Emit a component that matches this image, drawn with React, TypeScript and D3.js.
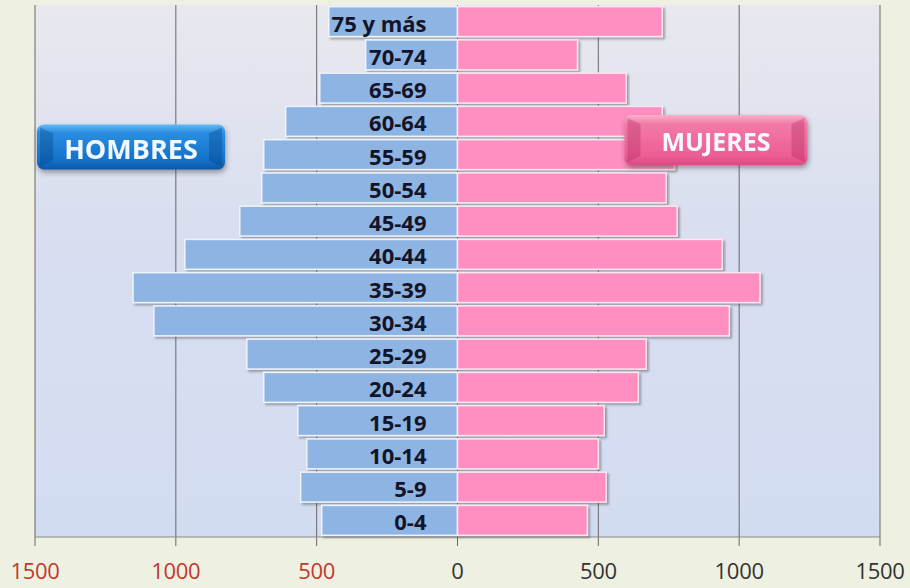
import React, { useRef, useEffect } from "react";
import * as d3 from "d3";

const ageGroups = [
  "0-4", "5-9", "10-14", "15-19", "20-24", "25-29", "30-34", "35-39",
  "40-44", "45-49", "50-54", "55-59", "60-64", "65-69", "70-74", "75 y más",
];
const hombres = [482, 557, 535, 567, 688, 748, 1078, 1152, 968, 773, 695, 688, 610, 489, 326, 457];
const mujeres = [461, 528, 500, 521, 642, 670, 965, 1074, 940, 780, 741, 770, 727, 599, 426, 727];
const tickValues = [-1500, -1000, -500, 0, 500, 1000, 1500];

const W = 910;
const H = 588;

const App: React.FC = () => {
  const ref = useRef<SVGSVGElement | null>(null);

  useEffect(() => {
    if (!ref.current) return;
    const svg = d3.select(ref.current);
    svg.selectAll("*").remove();

    const left = 35, right = 880, top = 5, bottom = 537;

    const x = d3.scaleLinear().domain([-1500, 1500]).range([left, right]);
    const y = d3
      .scaleBand<string>()
      .domain([...ageGroups].reverse())
      .range([top, bottom])
      .paddingInner(0.1)
      .paddingOuter(0.05);

    const defs = svg.append("defs");
    const plotGrad = defs.append("linearGradient").attr("id", "plotBg")
      .attr("x1", 0).attr("y1", 0).attr("x2", 0).attr("y2", 1);
    plotGrad.append("stop").attr("offset", "0%").attr("stop-color", "#e8e8ee");
    plotGrad.append("stop").attr("offset", "45%").attr("stop-color", "#d8def0");
    plotGrad.append("stop").attr("offset", "100%").attr("stop-color", "#d2dcf1");

    const shadow = defs.append("filter").attr("id", "barShadow")
      .attr("x", "-5%").attr("y", "-20%").attr("width", "115%").attr("height", "160%");
    shadow.append("feDropShadow").attr("dx", 2).attr("dy", 2)
      .attr("stdDeviation", 1.2).attr("flood-color", "#444").attr("flood-opacity", 0.45);

    const btnShadow = defs.append("filter").attr("id", "btnShadow")
      .attr("x", "-10%").attr("y", "-20%").attr("width", "130%").attr("height", "160%");
    btnShadow.append("feDropShadow").attr("dx", 1).attr("dy", 3)
      .attr("stdDeviation", 2.5).attr("flood-color", "#333").attr("flood-opacity", 0.45);

    const blueGrad = defs.append("linearGradient").attr("id", "blueBtn")
      .attr("x1", 0).attr("y1", 0).attr("x2", 0).attr("y2", 1);
    blueGrad.append("stop").attr("offset", "0%").attr("stop-color", "#62b9f4");
    blueGrad.append("stop").attr("offset", "18%").attr("stop-color", "#2a8ee0");
    blueGrad.append("stop").attr("offset", "80%").attr("stop-color", "#1470c8");
    blueGrad.append("stop").attr("offset", "100%").attr("stop-color", "#0b58a8");

    const pinkGrad = defs.append("linearGradient").attr("id", "pinkBtn")
      .attr("x1", 0).attr("y1", 0).attr("x2", 0).attr("y2", 1);
    pinkGrad.append("stop").attr("offset", "0%").attr("stop-color", "#fbb0cc");
    pinkGrad.append("stop").attr("offset", "18%").attr("stop-color", "#f27aa6");
    pinkGrad.append("stop").attr("offset", "80%").attr("stop-color", "#ed5f95");
    pinkGrad.append("stop").attr("offset", "100%").attr("stop-color", "#dd4a82");

    // page + plot background
    svg.append("rect").attr("width", W).attr("height", H).attr("fill", "#eef0e1");
    svg.append("rect")
      .attr("x", left).attr("y", top)
      .attr("width", right - left).attr("height", bottom - top)
      .attr("fill", "url(#plotBg)");

    // vertical gridlines + ticks
    svg.append("g")
      .selectAll("line")
      .data(tickValues)
      .join("line")
      .attr("x1", (d) => x(d)).attr("x2", (d) => x(d))
      .attr("y1", top).attr("y2", bottom + 9)
      .attr("stroke", "#686868").attr("stroke-width", 1);

    // bottom axis line
    svg.append("line")
      .attr("x1", left).attr("x2", right)
      .attr("y1", bottom).attr("y2", bottom)
      .attr("stroke", "#8a8a8a").attr("stroke-width", 1);

    const bars = svg.append("g").attr("filter", "url(#barShadow)");

    bars.selectAll("rect.m")
      .data(ageGroups)
      .join("rect")
      .attr("class", "m")
      .attr("x", (d, i) => x(-hombres[i]))
      .attr("y", (d) => y(d) as number)
      .attr("width", (d, i) => x(0) - x(-hombres[i]))
      .attr("height", y.bandwidth())
      .attr("fill", "#8db4e3")
      .attr("stroke", "#eef4fb")
      .attr("stroke-width", 1.5);

    bars.selectAll("rect.f")
      .data(ageGroups)
      .join("rect")
      .attr("class", "f")
      .attr("x", x(0))
      .attr("y", (d) => y(d) as number)
      .attr("width", (d, i) => x(mujeres[i]) - x(0))
      .attr("height", y.bandwidth())
      .attr("fill", "#fe8fc0")
      .attr("stroke", "#fde6f0")
      .attr("stroke-width", 1.5);

    // category labels
    svg.append("g")
      .selectAll("text")
      .data(ageGroups)
      .join("text")
      .attr("x", x(0) - 31)
      .attr("y", (d) => (y(d) as number) + y.bandwidth() / 2 + 1)
      .attr("text-anchor", "end")
      .attr("dominant-baseline", "central")
      .attr("font-family", "'Open Sans', sans-serif")
      .attr("font-weight", 700)
      .attr("font-size", 22)
      .attr("fill", "#141428")
      .text((d) => d);

    // x tick labels
    svg.append("g")
      .selectAll("text")
      .data(tickValues)
      .join("text")
      .attr("x", (d) => x(d))
      .attr("y", 579)
      .attr("text-anchor", "middle")
      .attr("font-family", "'Open Sans', sans-serif")
      .attr("font-size", 22)
      .attr("letter-spacing", -0.3)
      .attr("fill", (d) => (d < 0 ? "#c0392f" : "#333333"))
      .text((d) => d3.format("d")(Math.abs(d)));

    // legend buttons
    const button = (cx: number, cy: number, w: number, h: number, fill: string, dark: string, label: string, size: number) => {
      const g = svg.append("g").attr("filter", "url(#btnShadow)");
      g.append("rect")
        .attr("x", cx - w / 2).attr("y", cy - h / 2)
        .attr("width", w).attr("height", h)
        .attr("rx", 7).attr("fill", fill);
      // bevel corners
      const bx = 16;
      g.append("path")
        .attr("d", `M${cx - w / 2 + 3},${cy - h / 2 + 3} L${cx - w / 2 + bx},${cy - h / 2 + 9} L${cx - w / 2 + bx},${cy + h / 2 - 9} L${cx - w / 2 + 3},${cy + h / 2 - 3} Z`)
        .attr("fill", dark).attr("opacity", 0.35);
      g.append("path")
        .attr("d", `M${cx + w / 2 - 3},${cy - h / 2 + 3} L${cx + w / 2 - bx},${cy - h / 2 + 9} L${cx + w / 2 - bx},${cy + h / 2 - 9} L${cx + w / 2 - 3},${cy + h / 2 - 3} Z`)
        .attr("fill", dark).attr("opacity", 0.35);
      g.append("text")
        .attr("x", cx).attr("y", cy + 1)
        .attr("text-anchor", "middle")
        .attr("dominant-baseline", "central")
        .attr("font-family", "'Open Sans', sans-serif")
        .attr("font-weight", 700)
        .attr("font-size", size)
        .attr("fill", "#f2f8ff")
        .text(label);
    };
    button(131, 147, 188, 45, "url(#blueBtn)", "#063f80", "HOMBRES", 27);
    button(716, 140, 183, 50, "url(#pinkBtn)", "#b02a60", "MUJERES", 25);
  }, []);

  return (
    <svg
      ref={ref}
      width={W}
      height={H}
      style={{ position: "absolute", left: 0, top: 0, display: "block" }}
    />
  );
};

export default App;
